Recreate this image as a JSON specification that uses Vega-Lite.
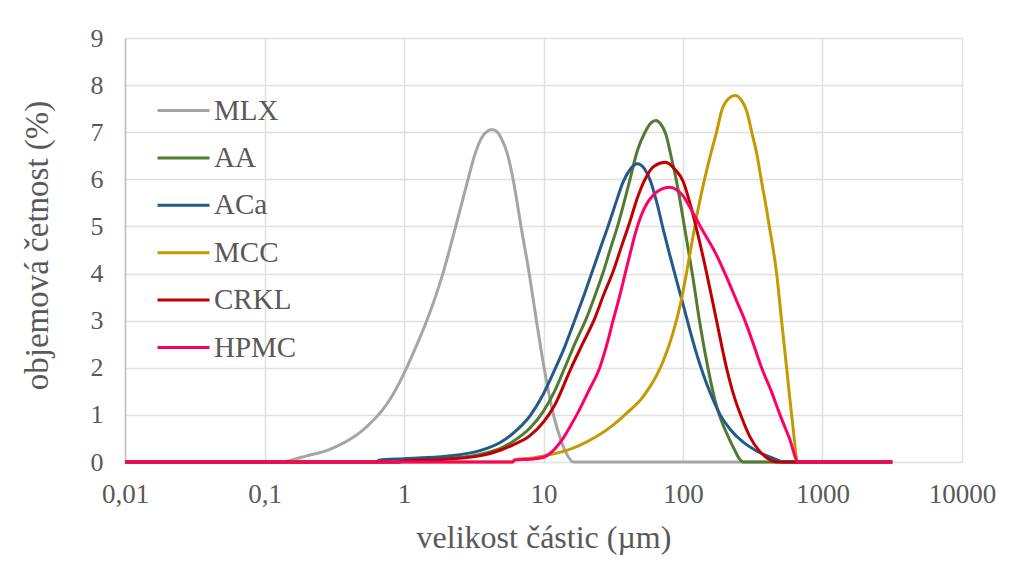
{
  "$schema": "https://vega.github.io/schema/vega-lite/v6.json",
  "autosize": {"type": "none"},
  "width": 837,
  "height": 424,
  "padding": {"left": 125, "top": 38, "right": 52, "bottom": 121},
  "background": "white",
  "config": {
    "font": "Liberation Serif",
    "view": {"stroke": null},
    "axis": {"labelFont": "Liberation Serif", "titleFont": "Liberation Serif", "labelColor": "#595959", "titleColor": "#595959", "titleFontWeight": "normal", "gridColor": "#e0e0e0", "gridWidth": 1.5, "ticks": false, "tickSize": 0, "domainColor": "#bfbfbf", "domainWidth": 1.5, "labelFlush": false, "labelOverlap": false},
    "legend": {"labelFont": "Liberation Serif", "labelColor": "#595959"}
  },
  "data": {"values": [
    {"s":"MLX","x":0.01,"y":0},{"s":"MLX","x":0.13,"y":0},{"s":"MLX","x":0.16,"y":0.05},{"s":"MLX","x":0.2,"y":0.13},{"s":"MLX","x":0.25,"y":0.2},{"s":"MLX","x":0.3,"y":0.28},{"s":"MLX","x":0.4,"y":0.46},{"s":"MLX","x":0.5,"y":0.66},{"s":"MLX","x":0.6,"y":0.88},{"s":"MLX","x":0.7,"y":1.1},{"s":"MLX","x":0.84,"y":1.45},{"s":"MLX","x":1.0,"y":1.88},{"s":"MLX","x":1.2,"y":2.4},{"s":"MLX","x":1.5,"y":3.1},{"s":"MLX","x":1.9,"y":4.0},{"s":"MLX","x":2.3,"y":4.9},{"s":"MLX","x":2.85,"y":5.95},{"s":"MLX","x":3.2,"y":6.5},{"s":"MLX","x":3.6,"y":6.88},{"s":"MLX","x":4.0,"y":7.03},{"s":"MLX","x":4.25,"y":7.06},{"s":"MLX","x":4.55,"y":7.03},{"s":"MLX","x":5.0,"y":6.86},{"s":"MLX","x":5.5,"y":6.55},{"s":"MLX","x":6.1,"y":5.95},{"s":"MLX","x":6.9,"y":5.0},{"s":"MLX","x":7.9,"y":4.0},{"s":"MLX","x":8.9,"y":3.0},{"s":"MLX","x":10.1,"y":2.0},{"s":"MLX","x":11.8,"y":1.0},{"s":"MLX","x":13.2,"y":0.5},{"s":"MLX","x":14.8,"y":0.15},{"s":"MLX","x":16.4,"y":0},{"s":"MLX","x":3162,"y":0},
    {"s":"AA","x":0.01,"y":0},{"s":"AA","x":0.9,"y":0},{"s":"AA","x":1.0,"y":0.02},{"s":"AA","x":2.0,"y":0.07},{"s":"AA","x":3.5,"y":0.16},{"s":"AA","x":5.0,"y":0.3},{"s":"AA","x":6.0,"y":0.43},{"s":"AA","x":8.0,"y":0.72},{"s":"AA","x":10.0,"y":1.08},{"s":"AA","x":12.0,"y":1.5},{"s":"AA","x":14.2,"y":2.0},{"s":"AA","x":17,"y":2.55},{"s":"AA","x":20.3,"y":3.05},{"s":"AA","x":23.5,"y":3.55},{"s":"AA","x":26.6,"y":4.0},{"s":"AA","x":30,"y":4.5},{"s":"AA","x":34.3,"y":5.05},{"s":"AA","x":41.7,"y":6.0},{"s":"AA","x":47,"y":6.6},{"s":"AA","x":53.4,"y":7.0},{"s":"AA","x":59,"y":7.2},{"s":"AA","x":64,"y":7.25},{"s":"AA","x":69,"y":7.18},{"s":"AA","x":75.5,"y":6.95},{"s":"AA","x":82,"y":6.5},{"s":"AA","x":90,"y":5.95},{"s":"AA","x":103,"y":4.95},{"s":"AA","x":118,"y":3.9},{"s":"AA","x":132,"y":2.95},{"s":"AA","x":152,"y":1.95},{"s":"AA","x":170,"y":1.3},{"s":"AA","x":187,"y":0.9},{"s":"AA","x":210,"y":0.55},{"s":"AA","x":235,"y":0.25},{"s":"AA","x":255,"y":0.06},{"s":"AA","x":270,"y":0},{"s":"AA","x":3162,"y":0},
    {"s":"ACa","x":0.01,"y":0},{"s":"ACa","x":0.64,"y":0},{"s":"ACa","x":0.66,"y":0.04},{"s":"ACa","x":1.0,"y":0.07},{"s":"ACa","x":2.0,"y":0.12},{"s":"ACa","x":3.5,"y":0.24},{"s":"ACa","x":5.0,"y":0.43},{"s":"ACa","x":6.0,"y":0.6},{"s":"ACa","x":8.0,"y":0.98},{"s":"ACa","x":10.0,"y":1.45},{"s":"ACa","x":12.0,"y":1.95},{"s":"ACa","x":14.0,"y":2.4},{"s":"ACa","x":16.7,"y":3.0},{"s":"ACa","x":19.3,"y":3.5},{"s":"ACa","x":22.1,"y":4.0},{"s":"ACa","x":25.3,"y":4.5},{"s":"ACa","x":29,"y":5.0},{"s":"ACa","x":33,"y":5.5},{"s":"ACa","x":37.3,"y":5.95},{"s":"ACa","x":42,"y":6.22},{"s":"ACa","x":47,"y":6.33},{"s":"ACa","x":53,"y":6.22},{"s":"ACa","x":58.7,"y":5.95},{"s":"ACa","x":65,"y":5.5},{"s":"ACa","x":72,"y":4.95},{"s":"ACa","x":80,"y":4.42},{"s":"ACa","x":90,"y":3.85},{"s":"ACa","x":100,"y":3.35},{"s":"ACa","x":112,"y":2.8},{"s":"ACa","x":125,"y":2.3},{"s":"ACa","x":140,"y":1.85},{"s":"ACa","x":160,"y":1.4},{"s":"ACa","x":185,"y":1.0},{"s":"ACa","x":220,"y":0.68},{"s":"ACa","x":270,"y":0.42},{"s":"ACa","x":330,"y":0.25},{"s":"ACa","x":400,"y":0.13},{"s":"ACa","x":470,"y":0.05},{"s":"ACa","x":520,"y":0},{"s":"ACa","x":3162,"y":0},
    {"s":"MCC","x":0.01,"y":0},{"s":"MCC","x":6.0,"y":0},{"s":"MCC","x":6.2,"y":0.05},{"s":"MCC","x":8.0,"y":0.08},{"s":"MCC","x":10.0,"y":0.13},{"s":"MCC","x":13.7,"y":0.22},{"s":"MCC","x":18,"y":0.35},{"s":"MCC","x":24,"y":0.54},{"s":"MCC","x":32,"y":0.8},{"s":"MCC","x":41.7,"y":1.1},{"s":"MCC","x":50,"y":1.33},{"s":"MCC","x":58,"y":1.6},{"s":"MCC","x":65,"y":1.85},{"s":"MCC","x":72.3,"y":2.15},{"s":"MCC","x":85,"y":2.75},{"s":"MCC","x":95,"y":3.3},{"s":"MCC","x":105,"y":3.95},{"s":"MCC","x":115,"y":4.6},{"s":"MCC","x":126,"y":5.25},{"s":"MCC","x":144,"y":6.05},{"s":"MCC","x":160,"y":6.6},{"s":"MCC","x":174,"y":7.0},{"s":"MCC","x":189,"y":7.45},{"s":"MCC","x":210,"y":7.7},{"s":"MCC","x":236,"y":7.78},{"s":"MCC","x":262,"y":7.68},{"s":"MCC","x":286,"y":7.45},{"s":"MCC","x":311,"y":7.0},{"s":"MCC","x":340,"y":6.5},{"s":"MCC","x":366,"y":5.95},{"s":"MCC","x":390,"y":5.5},{"s":"MCC","x":416,"y":5.0},{"s":"MCC","x":469,"y":4.0},{"s":"MCC","x":509,"y":3.0},{"s":"MCC","x":553,"y":2.0},{"s":"MCC","x":601,"y":1.0},{"s":"MCC","x":671,"y":0},{"s":"MCC","x":3162,"y":0},
    {"s":"CRKL","x":0.01,"y":0},{"s":"CRKL","x":0.9,"y":0},{"s":"CRKL","x":1.0,"y":0.02},{"s":"CRKL","x":2.0,"y":0.06},{"s":"CRKL","x":3.5,"y":0.13},{"s":"CRKL","x":5.0,"y":0.26},{"s":"CRKL","x":6.0,"y":0.36},{"s":"CRKL","x":8.0,"y":0.56},{"s":"CRKL","x":10.0,"y":0.85},{"s":"CRKL","x":12.0,"y":1.2},{"s":"CRKL","x":15.8,"y":2.0},{"s":"CRKL","x":19,"y":2.5},{"s":"CRKL","x":23.3,"y":3.05},{"s":"CRKL","x":27,"y":3.55},{"s":"CRKL","x":31.6,"y":4.05},{"s":"CRKL","x":36,"y":4.55},{"s":"CRKL","x":41.6,"y":5.1},{"s":"CRKL","x":47,"y":5.6},{"s":"CRKL","x":53.4,"y":6.0},{"s":"CRKL","x":62,"y":6.28},{"s":"CRKL","x":75,"y":6.36},{"s":"CRKL","x":87,"y":6.22},{"s":"CRKL","x":100.5,"y":5.95},{"s":"CRKL","x":112,"y":5.5},{"s":"CRKL","x":125,"y":4.95},{"s":"CRKL","x":148,"y":4.0},{"s":"CRKL","x":174,"y":3.0},{"s":"CRKL","x":205,"y":2.0},{"s":"CRKL","x":235,"y":1.35},{"s":"CRKL","x":263,"y":0.95},{"s":"CRKL","x":300,"y":0.55},{"s":"CRKL","x":356,"y":0.22},{"s":"CRKL","x":420,"y":0.05},{"s":"CRKL","x":469,"y":0},{"s":"CRKL","x":3162,"y":0},
    {"s":"HPMC","x":0.01,"y":0},{"s":"HPMC","x":6.0,"y":0},{"s":"HPMC","x":6.2,"y":0.04},{"s":"HPMC","x":8.0,"y":0.06},{"s":"HPMC","x":10.0,"y":0.1},{"s":"HPMC","x":11.0,"y":0.17},{"s":"HPMC","x":12.0,"y":0.27},{"s":"HPMC","x":13.8,"y":0.5},{"s":"HPMC","x":15.5,"y":0.75},{"s":"HPMC","x":17.3,"y":1.0},{"s":"HPMC","x":21,"y":1.5},{"s":"HPMC","x":25.3,"y":2.0},{"s":"HPMC","x":28.5,"y":2.5},{"s":"HPMC","x":31.5,"y":3.0},{"s":"HPMC","x":35,"y":3.5},{"s":"HPMC","x":38.5,"y":4.0},{"s":"HPMC","x":42,"y":4.45},{"s":"HPMC","x":45.8,"y":4.88},{"s":"HPMC","x":50,"y":5.22},{"s":"HPMC","x":55,"y":5.48},{"s":"HPMC","x":62,"y":5.68},{"s":"HPMC","x":70,"y":5.79},{"s":"HPMC","x":80,"y":5.83},{"s":"HPMC","x":90,"y":5.78},{"s":"HPMC","x":100,"y":5.65},{"s":"HPMC","x":115,"y":5.35},{"s":"HPMC","x":136,"y":4.95},{"s":"HPMC","x":170,"y":4.45},{"s":"HPMC","x":205,"y":3.93},{"s":"HPMC","x":240,"y":3.45},{"s":"HPMC","x":278,"y":3.0},{"s":"HPMC","x":320,"y":2.5},{"s":"HPMC","x":366,"y":2.0},{"s":"HPMC","x":430,"y":1.5},{"s":"HPMC","x":496,"y":1.0},{"s":"HPMC","x":580,"y":0.5},{"s":"HPMC","x":671,"y":0},{"s":"HPMC","x":3162,"y":0}
  ]},
  "mark": {"type": "line", "interpolate": "monotone", "strokeWidth": 3},
  "encoding": {
    "x": {"field": "x", "type": "quantitative", "scale": {"type": "log", "domain": [0.01, 10000]},
      "axis": {"values": [0.01, 0.1, 1, 10, 100, 1000, 10000], "labelExpr": "replace(toString(datum.value), '.', ',')", "labelFontSize": 27, "labelPadding": 19, "title": "velikost částic (µm)", "titleFontSize": 32, "titlePadding": 15, "domain": false}},
    "y": {"field": "y", "type": "quantitative", "scale": {"domain": [0, 9]},
      "axis": {"values": [0,1,2,3,4,5,6,7,8,9], "labelFontSize": 26, "labelPadding": 22, "title": "objemová četnost (%)", "titleFontSize": 33, "titlePadding": 36, "titleY": 207}},
    "color": {"field": "s", "type": "nominal", "sort": ["MLX","AA","ACa","MCC","CRKL","HPMC"],
      "scale": {"domain": ["MLX","AA","ACa","MCC","CRKL","HPMC"], "range": ["#a5a5a5","#507c32","#245a8a","#c49a00","#c00000","#ff0066"]},
      "legend": {"title": null, "orient": "none", "legendX": 31, "legendY": 45, "symbolType": "stroke", "symbolSize": 2704, "symbolStrokeWidth": 3, "labelFontSize": 29, "labelOffset": 3, "rowPadding": 4.4}}
  }
}
